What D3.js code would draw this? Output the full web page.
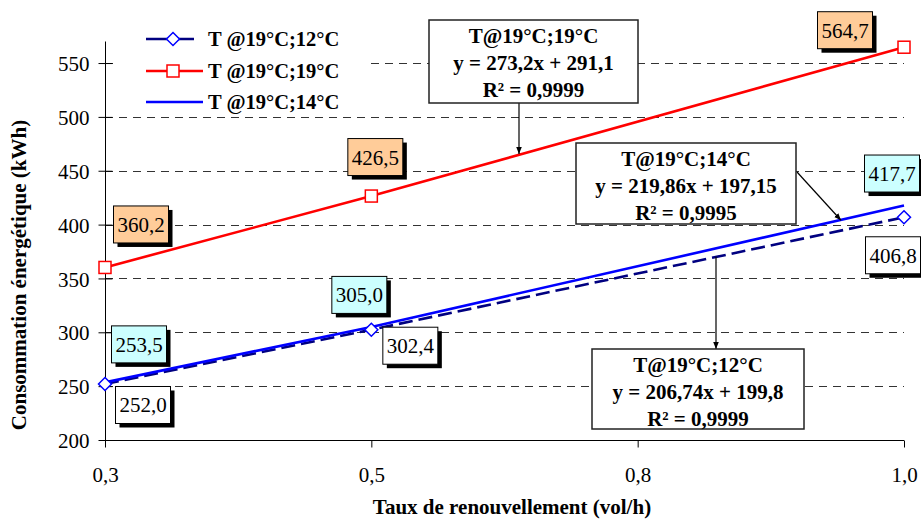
<!DOCTYPE html>
<html>
<head>
<meta charset="utf-8">
<script src="https://cdn.jsdelivr.net/npm/d3@7"></script>
<style>
  body { margin: 0; background: #fff; }
  svg { display: block; font-family: "Liberation Serif", "Times New Roman", serif; }
</style>
</head>
<body>
<svg id="chart" width="921" height="519"></svg>
<script>
// ---- Data ----
const xValues = [0.25, 0.5, 1.0];
const seriesNames = ["T @19°C;12°C", "T @19°C;19°C", "T @19°C;14°C"];
const values12 = [252.0, 302.4, 406.8];
const values19 = [360.2, 426.5, 564.7];
const values14 = [253.5, 305.0, 417.7];
const xTickValues = [0.25, 0.5, 0.75, 1.0];
const xTickLabels = ["0,3", "0,5", "0,8", "1,0"];
const yTickValues = [200, 250, 300, 350, 400, 450, 500, 550];
const trendTitles = ["T@19°C;12°C", "T@19°C;19°C", "T@19°C;14°C"];
const trendSlopes = [206.74, 273.2, 219.86];
const trendIntercepts = [199.8, 291.1, 197.15];
const trendEquations = ["y = 206,74x + 199,8", "y = 273,2x + 291,1", "y = 219,86x + 197,15"];
const trendR2 = ["R² = 0,9999", "R² = 0,9999", "R² = 0,9995"];
const xTitle = "Taux de renouvellement (vol/h)";
const yTitle = "Consommation énergétique (kWh)";

// ---- Setup ----
const svg = d3.select("#chart");
const x = d3.scaleLinear().domain([0.25, 1.0]).range([105, 904]);
const y = d3.scaleLinear().domain([200, 570]).range([440, 41.5]);
const fmt = v => d3.format(".1f")(v).replace(".", ",");
const SERIF = "Liberation Serif, Times New Roman, serif";

const series = [
  { name: seriesNames[0], values: values12, color: "#000080", dash: "14,6", marker: "diamond",
    labelFill: "#ffffff", offsets: [[38, 21], [39, 16], [-11, 38]] },
  { name: seriesNames[1], values: values19, color: "#ff0000", dash: null, marker: "square",
    labelFill: "#ffcc99", offsets: [[36, -43], [4, -39], [-59, -17]] },
  { name: seriesNames[2], values: values14, color: "#0000ff", dash: null, marker: null,
    labelFill: "#ccffff", offsets: [[34, -38], [-12, -32], [-12, -32]] }
];

// ---- Gridlines ----
const grid = svg.append("g");
grid.selectAll("line").data(yTickValues.filter(v => v > 200)).enter().append("line")
  .attr("x1", x(0.25)).attr("x2", x(1.0))
  .attr("y1", d => Math.round(y(d)) + 0.5).attr("y2", d => Math.round(y(d)) + 0.5)
  .attr("stroke", "#333").attr("stroke-width", 1).attr("stroke-dasharray", "8,6");

// ---- Axes ----
const yAxis = svg.append("g").attr("transform", "translate(105.5,0)")
  .call(d3.axisLeft(y).tickValues(yTickValues).tickSize(7).tickPadding(9).tickFormat(d3.format("d")));
yAxis.attr("font-family", SERIF);
yAxis.select(".domain").attr("d", `M0,${y(570)}V${y(200)}`).attr("stroke", "#000");
yAxis.selectAll(".tick line").attr("x1", -7).attr("x2", 7).attr("stroke", "#000");
yAxis.selectAll(".tick text").attr("font-size", 21).attr("font-family", SERIF).attr("fill", "#000")
  .attr("dy", "0.36em");

const xAxis = svg.append("g").attr("transform", "translate(0,440.5)")
  .call(d3.axisBottom(x).tickValues(xTickValues).tickSize(7).tickPadding(20)
    .tickFormat((d, i) => xTickLabels[i]));
xAxis.attr("font-family", SERIF);
xAxis.select(".domain").attr("d", `M${x(0.25)},0H${x(1.0)}`).attr("stroke", "#000");
xAxis.selectAll(".tick line").attr("stroke", "#000");
xAxis.selectAll(".tick text").attr("font-size", 21).attr("font-family", SERIF).attr("fill", "#000");

// ---- Axis titles ----
svg.append("text").attr("x", 512).attr("y", 514).attr("text-anchor", "middle")
  .attr("font-weight", "bold").attr("font-size", 21).text(xTitle);
svg.append("text").attr("transform", "translate(26,275) rotate(-90)").attr("text-anchor", "middle")
  .attr("font-weight", "bold").attr("font-size", 21).text(yTitle);

// ---- Lines ----
const lineGen = d3.line().x((d, i) => x(xValues[i])).y(d => y(d));
series.forEach(s => {
  svg.append("path").datum(s.values).attr("d", lineGen)
    .attr("fill", "none").attr("stroke", s.color).attr("stroke-width", 2.6)
    .attr("stroke-dasharray", s.dash);
});

// ---- Markers ----
function drawMarker(g, type, cx, cy, color) {
  if (type === "diamond") {
    g.append("path").attr("d", `M${cx},${cy - 6.5}L${cx + 6.5},${cy}L${cx},${cy + 6.5}L${cx - 6.5},${cy}Z`)
      .attr("fill", "#fff").attr("stroke", "#0000ff").attr("stroke-width", 1.5);
  } else if (type === "square") {
    g.append("rect").attr("x", cx - 6).attr("y", cy - 6).attr("width", 12).attr("height", 12)
      .attr("fill", "#fff").attr("stroke", color).attr("stroke-width", 1.5);
  }
}
const markers = svg.append("g");
series.forEach(s => {
  if (!s.marker) return;
  s.values.forEach((v, i) => drawMarker(markers, s.marker, x(xValues[i]), y(v), s.color));
});

// ---- Legend ----
const legend = svg.append("g");
legend.append("rect").attr("x", 113).attr("y", 24).attr("width", 253).attr("height", 90).attr("fill", "#fff");
const legendY = [39, 71, 102];
const legendLineEnd = [194, 203, 203];
series.forEach((s, i) => {
  legend.append("line").attr("x1", 146).attr("x2", legendLineEnd[i]).attr("y1", legendY[i]).attr("y2", legendY[i])
    .attr("stroke", s.color).attr("stroke-width", 2.6);
  if (s.marker) drawMarker(legend, s.marker, 173, legendY[i], s.color);
  legend.append("text").attr("x", 208).attr("y", legendY[i] + 7).attr("font-weight", "bold")
    .attr("font-size", 20.5).text(s.name);
});

// ---- Data labels ----
const labels = svg.append("g");
const bw = 55, bh = 37;
series.forEach(s => {
  s.values.forEach((v, i) => {
    const cx = x(xValues[i]) + s.offsets[i][0];
    const cy = y(v) + s.offsets[i][1];
    labels.append("rect").attr("x", cx - bw / 2 + 4).attr("y", cy - bh / 2 + 4).attr("width", bw).attr("height", bh)
      .attr("fill", "#000");
    labels.append("rect").attr("x", cx - bw / 2).attr("y", cy - bh / 2).attr("width", bw).attr("height", bh)
      .attr("fill", s.labelFill).attr("stroke", "#000").attr("stroke-width", 1);
    labels.append("text").attr("x", cx).attr("y", cy + 7.5).attr("text-anchor", "middle")
      .attr("font-size", 21).text(fmt(v));
  });
});

// ---- Trendline equation boxes ----
svg.append("defs").append("marker").attr("id", "arr").attr("viewBox", "0 0 10 10")
  .attr("refX", 10).attr("refY", 5).attr("markerWidth", 7).attr("markerHeight", 7)
  .attr("orient", "auto").attr("markerUnits", "userSpaceOnUse")
  .append("path").attr("d", "M0,1L10,5L0,9Z").attr("fill", "#000");

const eqBoxes = [
  { i: 0, x0: 592, y0: 349, w: 212, h: 80, lx: 716, towardBox: true },
  { i: 1, x0: 429, y0: 20, w: 209, h: 83, lx: 519, towardBox: false },
  { i: 2, x0: 576, y0: 143, w: 220, h: 81, lx: 841, towardBox: false, sx: 797, sy: 172 }
];
const eqG = svg.append("g");
eqBoxes.forEach(b => {
  const trendY = y(trendSlopes[b.i] * x.invert(b.lx) + trendIntercepts[b.i]);
  let x1, y1, x2, y2;
  if (b.towardBox) { x1 = b.lx; y1 = trendY; x2 = b.lx; y2 = b.y0; }
  else if (b.sx !== undefined) { x1 = b.sx; y1 = b.sy; x2 = b.lx; y2 = trendY; }
  else { x1 = b.lx; y1 = b.y0 + b.h; x2 = b.lx; y2 = trendY; }
  eqG.append("line").attr("x1", x1).attr("y1", y1).attr("x2", x2).attr("y2", y2)
    .attr("stroke", "#000").attr("stroke-width", 1.2).attr("marker-end", "url(#arr)");
  eqG.append("rect").attr("x", b.x0).attr("y", b.y0).attr("width", b.w).attr("height", b.h)
    .attr("fill", "#fff").attr("stroke", "#222").attr("stroke-width", 1.5);
  const cx = b.x0 + b.w / 2;
  const lines = [trendTitles[b.i], trendEquations[b.i], trendR2[b.i]];
  lines.forEach((t, k) => {
    eqG.append("text").attr("x", cx).attr("y", b.y0 + 23 + k * 27).attr("text-anchor", "middle")
      .attr("font-weight", "bold").attr("font-size", 21).text(t);
  });
});
</script>
</body>
</html>
